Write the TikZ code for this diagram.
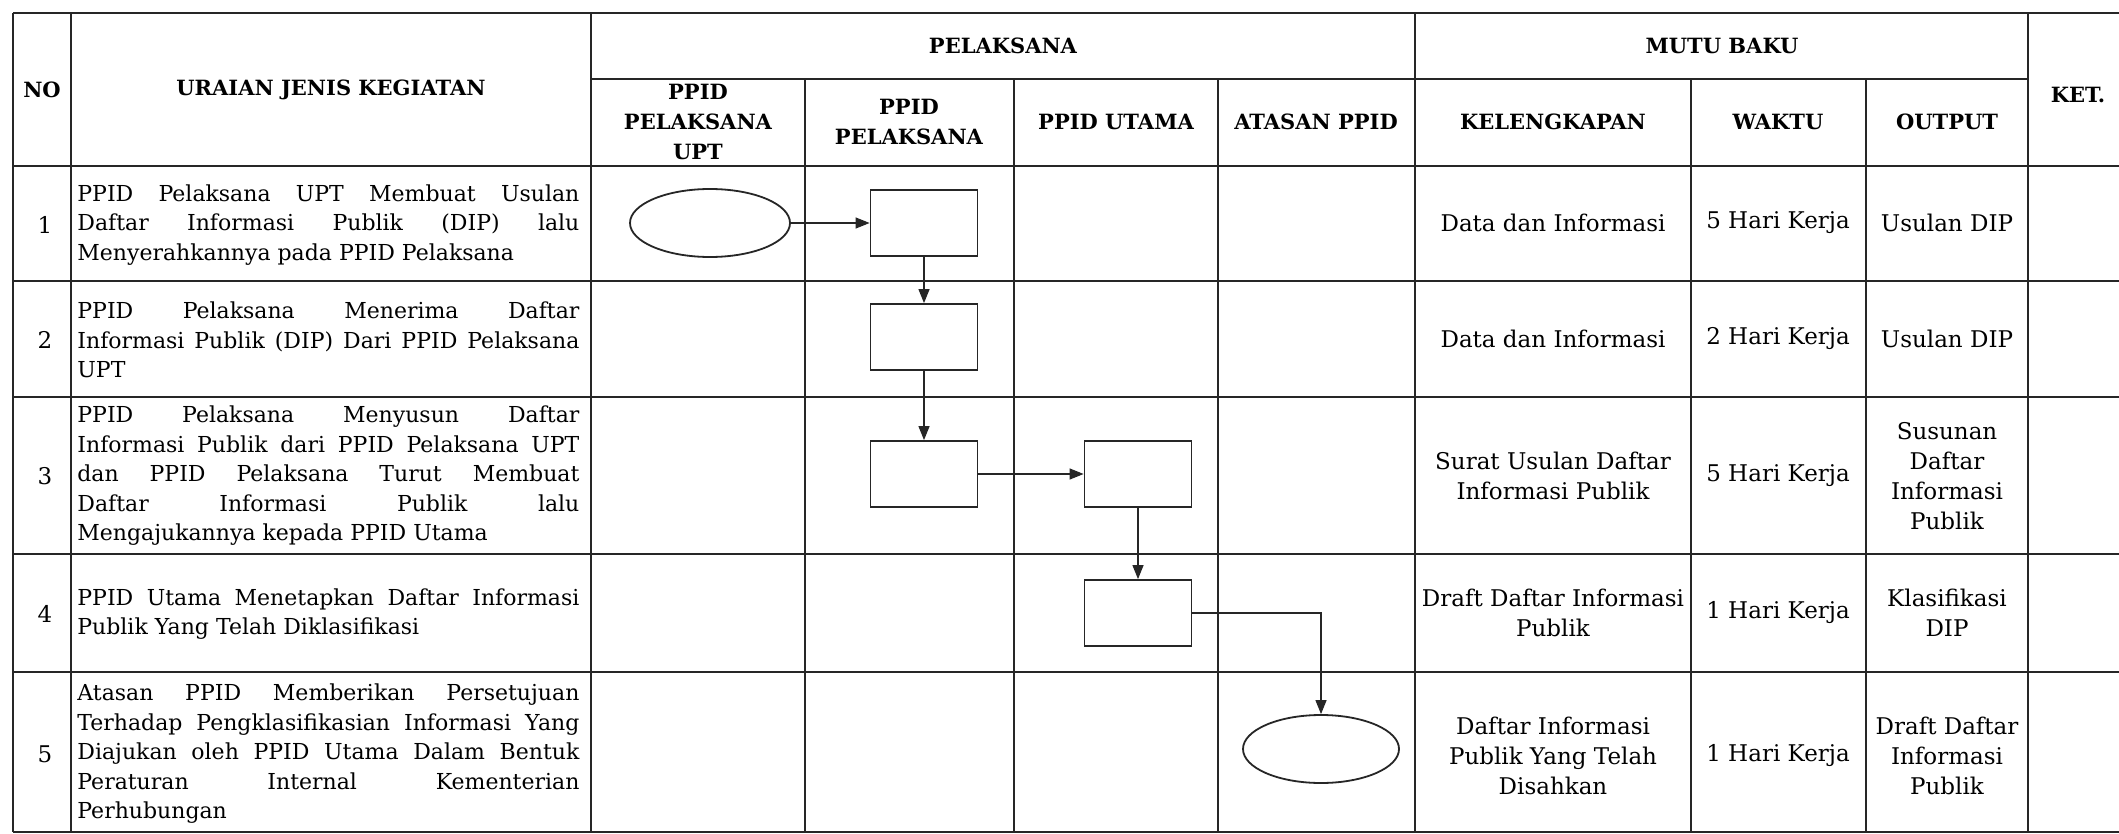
\documentclass[tikz,border=0pt]{standalone}
\usepackage{fontspec}
\setmainfont{DejaVu Serif}
\usetikzlibrary{arrows.meta,shapes.geometric}
\begin{document}
\begin{tikzpicture}[x=0.5pt,y=-0.5pt,
  gridline/.style={line width=1.1pt, draw=black!85},
  hdr/.style={font=\bfseries\fontsize{10.5}{15}\selectfont, align=center, inner sep=0},
  cell/.style={font=\fontsize{11.5}{15}\selectfont, align=center, inner sep=0},
  desc/.style={font=\fontsize{11}{14.75}\selectfont, text width=251pt, align=justify, inner sep=0, anchor=west},
  num/.style={font=\fontsize{11.5}{15}\selectfont, inner sep=0},
  proc/.style={draw=black!85, line width=0.9pt, minimum width=53.5pt, minimum height=33pt, inner sep=0},
  term/.style={draw=black!85, ellipse, line width=0.9pt, minimum width=80pt, minimum height=34pt, inner sep=0},
  flow/.style={draw=black!85, line width=0.6pt, -{Triangle[length=7pt,width=5.5pt]}}]
\useasboundingbox (0,0) rectangle (2119,834);
\fill[white] (0,0) rectangle (2119,834);
% horizontal lines
\draw[gridline] (13,13) -- (2119,13);
\draw[gridline] (591,79) -- (2028,79);
\draw[gridline] (13,166) -- (2119,166);
\draw[gridline] (13,281) -- (2119,281);
\draw[gridline] (13,397) -- (2119,397);
\draw[gridline] (13,554) -- (2119,554);
\draw[gridline] (13,672) -- (2119,672);
\draw[gridline] (13,832) -- (2119,832);
% vertical lines
\foreach \x in {13,71,591,1415,2028} \draw[gridline] (\x,13) -- (\x,832);
\foreach \x in {805,1014,1218,1691,1866} \draw[gridline] (\x,79) -- (\x,832);
% headers
\node[hdr] (hNo) at (42,90) {NO};
\node[hdr] (hUraian) at (331,90) {URAIAN JENIS KEGIATAN};
\node[hdr] (hPel) at (1003,46) {PELAKSANA};
\node[hdr] (hMutu) at (1722,46) {MUTU BAKU};
\node[hdr] (hKet) at (2078,95) {KET.};
\node[hdr] (hUPT) at (698,122) {PPID\\PELAKSANA\\UPT};
\node[hdr] (hPP) at (909,122) {PPID\\PELAKSANA};
\node[hdr] (hUtama) at (1116,122) {PPID UTAMA};
\node[hdr] (hAtasan) at (1316,122) {ATASAN PPID};
\node[hdr] (hKel) at (1553,122) {KELENGKAPAN};
\node[hdr] (hWaktu) at (1778,122) {WAKTU};
\node[hdr] (hOut) at (1947,122) {OUTPUT};
% numbers
\node[num] (n1) at (45,225) {1};
\node[num] (n2) at (45,340) {2};
\node[num] (n3) at (45,476) {3};
\node[num] (n4) at (45,614) {4};
\node[num] (n5) at (45,754) {5};
% descriptions
\node[desc] (d1) at (77,225) {PPID Pelaksana UPT Membuat Usulan\linebreak Daftar Informasi Publik (DIP) lalu\linebreak Menyerahkannya pada PPID Pelaksana};
\node[desc] (d2) at (77,340) {PPID Pelaksana Menerima Daftar\linebreak Informasi Publik (DIP) Dari PPID Pelaksana\linebreak UPT};
\node[desc] (d3) at (77,476) {PPID Pelaksana Menyusun Daftar\linebreak Informasi Publik dari PPID Pelaksana UPT\linebreak dan PPID Pelaksana Turut Membuat\linebreak Daftar Informasi Publik lalu\linebreak Mengajukannya kepada PPID Utama};
\node[desc] (d4) at (77,614) {PPID Utama Menetapkan Daftar Informasi\linebreak Publik Yang Telah Diklasifikasi};
\node[desc] (d5) at (77,754) {Atasan PPID Memberikan Persetujuan\linebreak Terhadap Pengklasifikasian Informasi Yang\linebreak Diajukan oleh PPID Utama Dalam Bentuk\linebreak Peraturan Internal Kementerian\linebreak Perhubungan};
% mutu baku cells
\node[cell] (k1) at (1553,223) {Data dan Informasi};
\node[cell] (w1) at (1778,223) {5 Hari Kerja};
\node[cell] (o1) at (1947,223) {Usulan DIP};
\node[cell] (k2) at (1553,339) {Data dan Informasi};
\node[cell] (w2) at (1778,339) {2 Hari Kerja};
\node[cell] (o2) at (1947,339) {Usulan DIP};
\node[cell] (k3) at (1553,476) {Surat Usulan Daftar\\Informasi Publik};
\node[cell] (w3) at (1778,476) {5 Hari Kerja};
\node[cell] (o3) at (1947,476) {Susunan\\Daftar\\Informasi\\Publik};
\node[cell] (k4) at (1553,613) {Draft Daftar Informasi\\Publik};
\node[cell] (w4) at (1778,613) {1 Hari Kerja};
\node[cell] (o4) at (1947,613) {Klasifikasi\\DIP};
\node[cell] (k5) at (1553,756) {Daftar Informasi\\Publik Yang Telah\\Disahkan};
\node[cell] (w5) at (1778,756) {1 Hari Kerja};
\node[cell] (o5) at (1947,756) {Draft Daftar\\Informasi\\Publik};
% flowchart
\node[term] (t1) at (710,223) {};
\node[proc] (b1) at (924,223) {};
\node[proc] (b2) at (924,337) {};
\node[proc] (b3) at (924,474) {};
\node[proc] (b4) at (1138,474) {};
\node[proc] (b5) at (1138,613) {};
\node[term, minimum width=78pt] (t2) at (1321,749) {};
\draw[flow] (t1.east) -- (b1.west);
\draw[flow] (b1.south) -- (b2.north);
\draw[flow] (b2.south) -- (b3.north);
\draw[flow] (b3.east) -- (b4.west);
\draw[flow] (b4.south) -- (b5.north);
\draw[flow] (b5.east) -| (t2.north);
\end{tikzpicture}
\end{document}
